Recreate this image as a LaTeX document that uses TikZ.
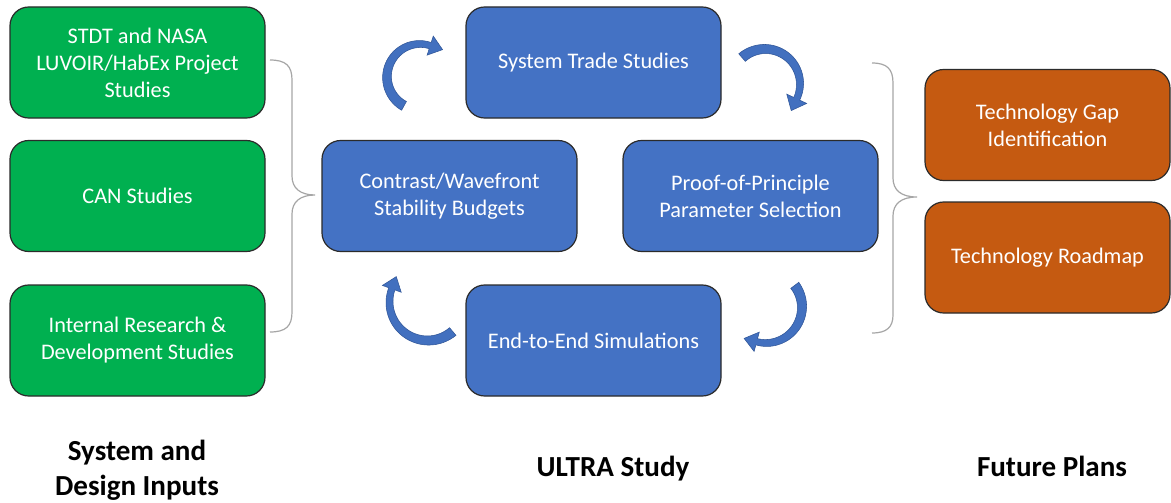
\documentclass[tikz,border=0pt]{standalone}
\usepackage{fontspec}
\setmainfont{Carlito}
\definecolor{ggreen}{HTML}{00B050}
\definecolor{bblue}{HTML}{4472C4}
\definecolor{oorange}{HTML}{C55A11}
\definecolor{bracec}{HTML}{A6A6A6}
\definecolor{edgec}{HTML}{2B2B2B}
\definecolor{arrowc}{HTML}{4270BF}
\definecolor{arrowe}{HTML}{2F5597}
\newcommand{\cycarrow}[9]{%
  \fill[cycfill] plot[domain=0:1,samples=40,variable=\pp]
    ({#1+(#3+(#6+(#7-#6)*\pp)/2)*cos(#4+(#5-#4)*\pp)},{#2-(#3+(#6+(#7-#6)*\pp)/2)*sin(#4+(#5-#4)*\pp)})
    -- ({#1+(#3+#8)*cos(#5)},{#2-(#3+#8)*sin(#5)})
    -- ({#1+#3*cos(#5)-(#9)*sin(#5)},{#2-#3*sin(#5)-(#9)*cos(#5)})
    -- ({#1+(#3-#8)*cos(#5)},{#2-(#3-#8)*sin(#5)})
    -- plot[domain=0:1,samples=40,variable=\pp]
    ({#1+(#3-(#7+(#6-#7)*\pp)/2)*cos(#5+(#4-#5)*\pp)},{#2-(#3-(#7+(#6-#7)*\pp)/2)*sin(#5+(#4-#5)*\pp)})
    -- cycle;}
\begin{document}
\begin{tikzpicture}[x=0.75pt,y=-0.75pt,
  box/.style={draw=edgec, line width=0.9pt, rounded corners=14pt,
    minimum width=191.25pt, minimum height=83.25pt, text=white,
    align=center, inner sep=2pt, font=\fontsize{16.7}{20.25}\selectfont},
  gbox/.style={box, fill=ggreen},
  bbox/.style={box, fill=bblue},
  obox/.style={box, fill=oorange, minimum width=183.75pt},
  bracepath/.style={draw=bracec, line width=0.9pt},
  cycfill/.style={fill=arrowc, draw=arrowe, line width=0.4pt},
  heading/.style={align=center, font=\bfseries\fontsize{21.8}{26.5}\selectfont, text=black}]
\useasboundingbox[fill=white] (0,0) rectangle (1171,503);

% inputs
\node[gbox] (g1) at (137.5,62.5) {STDT and NASA\\LUVOIR/HabEx Project\\Studies};
\node[gbox] (g2) at (137.5,196) {CAN Studies};
\node[gbox] (g3) at (137.5,340.5) {Internal Research \&\\Development Studies};

% ULTRA study
\node[bbox] (top) at (593.5,62.5) {System Trade Studies};
\node[bbox] (left) at (449.5,196) {Contrast/Wavefront\\Stability Budgets};
\node[bbox] (right) at (750.5,196) {Proof-of-Principle\\Parameter Selection};
\node[bbox] (bot) at (593.5,340.5) {End-to-End Simulations};

% future plans
\node[obox] (o1) at (1047.5,125) {Technology Gap\\Identification};
\node[obox] (o2) at (1047.5,257.5) {Technology Roadmap};

% headings
\node[heading] (h1) at (137,470) {System and\\Design Inputs};
\node[heading] (h2) at (613,469) {ULTRA Study};
\node[heading] (h3) at (1052,466) {Future Plans};

% braces
\draw[bracepath] (270,60) .. controls (286,60) and (292,66) .. (292,80)
  -- (292,176) .. controls (292,188) and (300,195) .. (315,195)
  .. controls (300,195) and (292,202) .. (292,214)
  -- (292,312) .. controls (292,326) and (286,332) .. (270,332);
\draw[bracepath] (872,63) .. controls (887,63) and (893,69) .. (893,83)
  -- (893,178) .. controls (893,190) and (901,197) .. (917,197)
  .. controls (901,197) and (893,204) .. (893,216)
  -- (893,315) .. controls (893,327) and (887,333) .. (872,333);

% cycle arrows
\cycarrow{420}{77}{33}{241}{72}{10}{6.5}{10}{-13}
\cycarrow{765}{84}{35}{131}{-25}{10}{6.5}{11}{-13}
\cycarrow{766}{307}{36}{37}{-105}{10}{6.5}{10}{-13}
\cycarrow{428}{302}{38.5}{310}{160}{10}{6.5}{10}{-13}
\end{tikzpicture}
\end{document}
